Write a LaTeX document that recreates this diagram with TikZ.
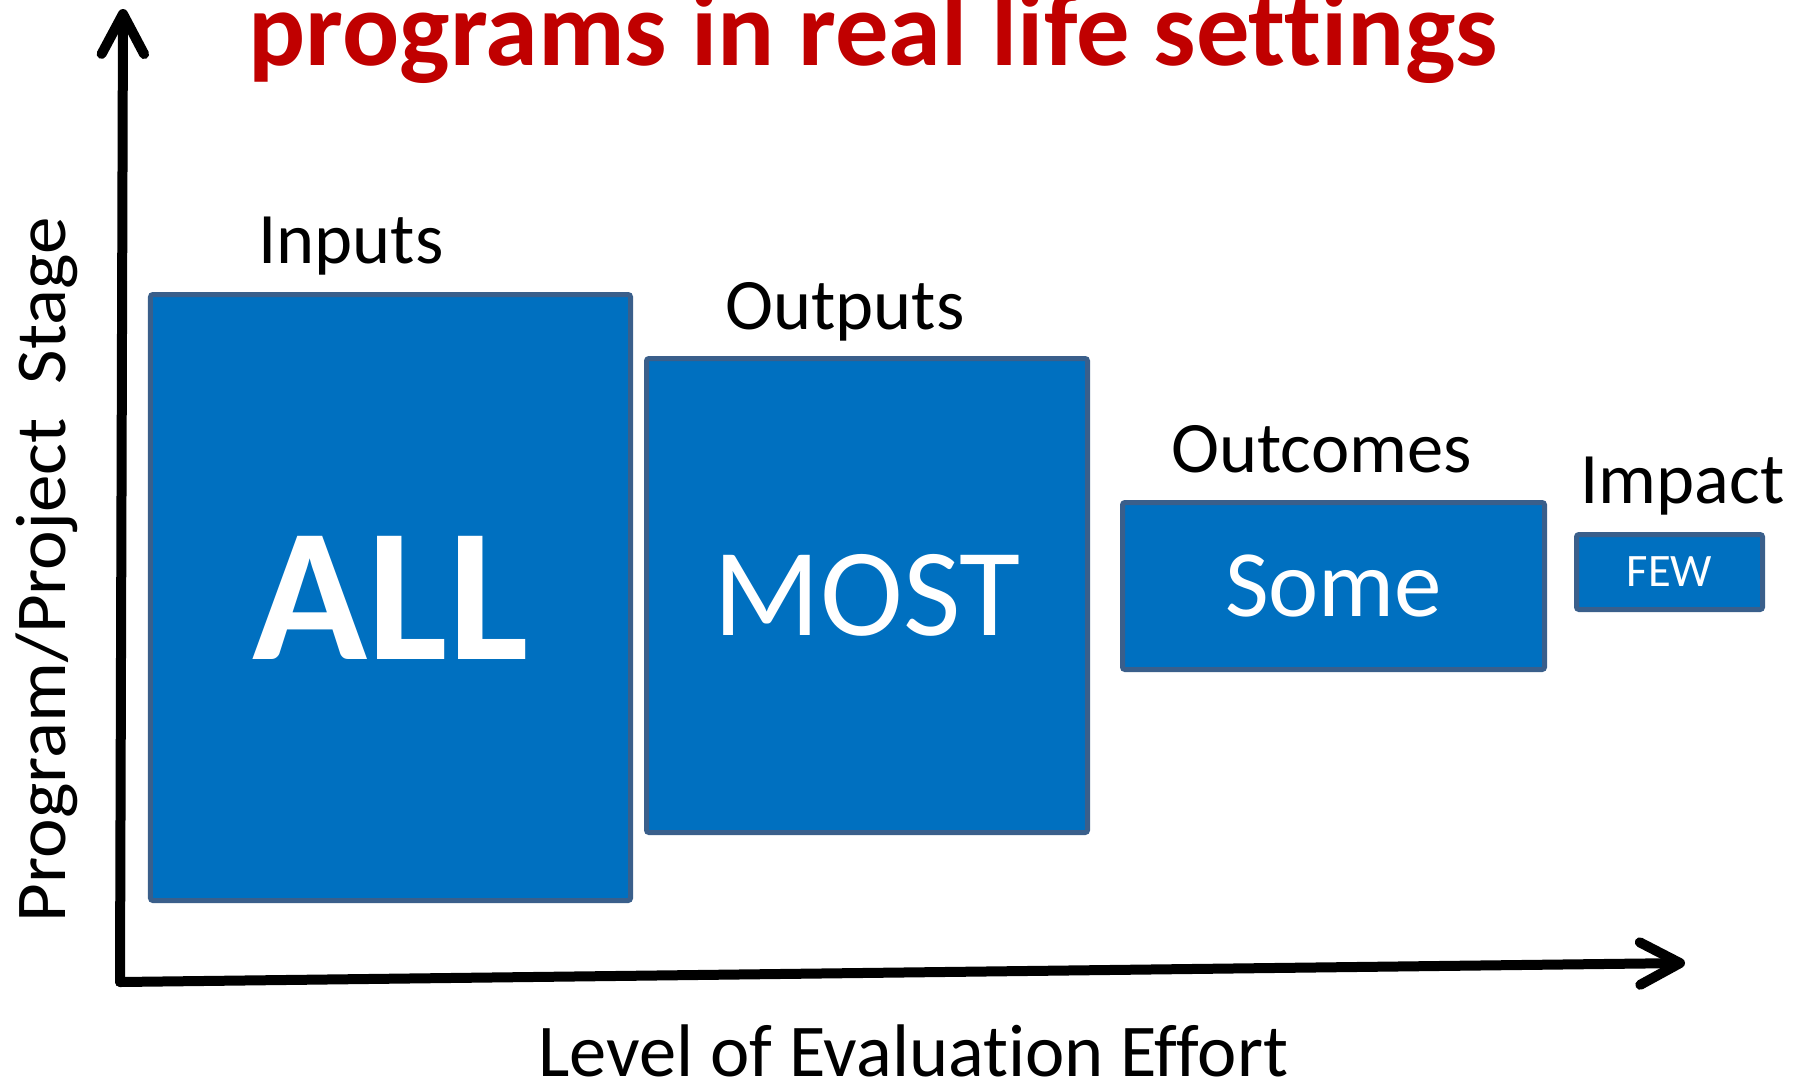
\documentclass[tikz,border=0pt]{standalone}
\usepackage{fontspec}
\setmainfont{Carlito}[Ligatures=NoCommon]
\usetikzlibrary{arrows.meta}
\definecolor{boxblue}{HTML}{0070C0}
\definecolor{boxline}{HTML}{3A5F8B}
\definecolor{titlered}{HTML}{C00000}
\tikzset{
  stagebox/.style={draw=boxline, fill=boxblue, line width=2pt, rounded corners=1pt, inner sep=0pt, text=white},
  stagelabel/.style={anchor=base west, inner sep=0pt, font=\fontsize{29}{30}\selectfont},
  axisline/.style={line width=4pt, line cap=round, line join=round, -{Straight Barb[length=16pt,width=17pt,round]}}
}
\begin{document}
\begin{tikzpicture}[x=0.4pt,y=-0.4pt]
            \useasboundingbox (0,0) rectangle (1806,1081);

            % title (second line only)
            \node[anchor=base west, inner sep=0pt, text=titlered, font=\bfseries\fontsize{42.6}{45}\selectfont] (title) at (248,65) {programs in real life settings};

            % axes
            \coordinate (origin) at (120,982);
            \coordinate (ytop) at (123,9);
            \coordinate (xend) at (1685,963);
            \draw[axisline] (origin) -- (ytop);
            \draw[axisline] (origin) -- (xend);

            % boxes
            \node[stagebox, minimum width=192pt, minimum height=242.4pt, font=\bfseries\fontsize{76}{78}\selectfont] (all) at (390.5,597.5) {ALL};
            \node[stagebox, minimum width=176.4pt, minimum height=189.6pt, font=\fontsize{50}{52}\selectfont] (most) at (867,595.5) {MOST};
            \node[stagebox, minimum width=168.8pt, minimum height=66.8pt, font=\fontsize{38}{40}\selectfont] (some) at (1333.5,586) {Some};
            \node[stagebox, minimum width=74.4pt, minimum height=30pt, font=\fontsize{18.6}{20}\selectfont] (few) at (1669.5,572) {FEW};

            % stage names
            \node[stagelabel] (inputs) at (258,263) {Inputs};
            \node[stagelabel] (outputs) at (725,329) {Outputs};
            \node[stagelabel] (outcomes) at (1171,472) {Outcomes};
            \node[stagelabel] (impact) at (1580,503) {Impact};

            % axis names
            \node[stagelabel, font=\fontsize{29.8}{31}\selectfont] (effort) at (538,1076) {Level of Evaluation Effort};
            \node[anchor=base, inner sep=0pt, rotate=90, xscale=1.05, font=\fontsize{28.6}{30}\selectfont] (stage) at (65,570) {Program/Project\ \ Stage};
        \end{tikzpicture}
\end{document}
